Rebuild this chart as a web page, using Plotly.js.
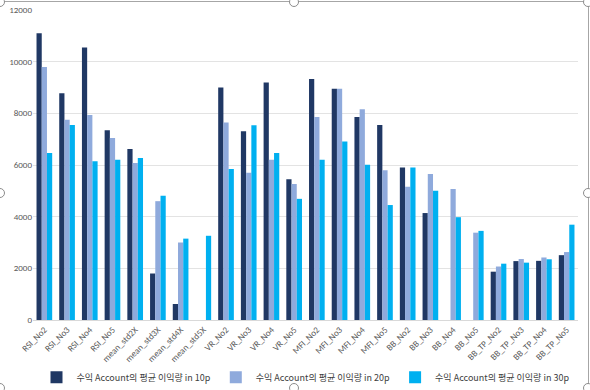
<!DOCTYPE html>
<html>
<head>
<meta charset="utf-8">
<script src="https://cdn.plot.ly/plotly-3.0.1.min.js"></script>
<style>
  html, body { margin: 0; padding: 0; background: #fff; }
  #wrap { position: relative; width: 590px; height: 390px; overflow: hidden; }
  #chart { position: absolute; left: 0; top: 0; width: 590px; height: 390px; }
  #frame { position: absolute; left: -1px; top: 1px; width: 588px; height: 395px; border: 1px solid #a6a6a6; pointer-events: none; }
  .h { position: absolute; width: 8px; height: 8px; border: 1px solid #8c8c8c; border-radius: 50%; background: #fff; }
</style>
</head>
<body>
<div id="wrap">
  <div id="chart"></div>
  <div id="frame"></div>
  <div class="h" style="left:-5px; top:-3px;"></div>
  <div class="h" style="left:289px; top:-3px;"></div>
  <div class="h" style="left:583px; top:-3px;"></div>
  <div class="h" style="left:583px; top:188px;"></div>
  <div class="h" style="left:-5px; top:188px;"></div>
  <div class="h" style="left:289px; top:383px;"></div>
  <div class="h" style="left:583px; top:383px;"></div>
  <div class="h" style="left:-5px; top:383px;"></div>
</div>
<script>
const categories = ["RSI_No2","RSI_No3","RSI_No4","RSI_No5","mean_std2X","mean_std3X","mean_std4X","mean_std5X",
  "VR_No2","VR_No3","VR_No4","VR_No5","MFI_No2","MFI_No3","MFI_No4","MFI_No5",
  "BB_No2","BB_No3","BB_No4","BB_No5","BB_TP_No2","BB_TP_No3","BB_TP_No4","BB_TP_No5"];
const seriesNames = ["수익 Account의 평균 이익량 in 10p","수익 Account의 평균 이익량 in 20p","수익 Account의 평균 이익량 in 30p"];
const values10p = [11100, 8780, 10550, 7350, 6620, 1800, 620, 0,
  9000, 7310, 9190, 5450, 9330, 8950, 7860, 7550,
  5900, 4140, 0, 0, 1870, 2280, 2290, 2510];
const values20p = [9790, 7750, 7940, 7050, 6080, 4600, 3000, 0,
  7650, 5700, 6200, 5260, 7860, 8950, 8160, 5800,
  5160, 5650, 5070, 3380, 2070, 2360, 2420, 2630];
const values30p = [6460, 7550, 6150, 6200, 6270, 4810, 3150, 3260,
  5850, 7540, 6460, 4690, 6200, 6910, 6010, 4450,
  5900, 5000, 3980, 3450, 2180, 2220, 2350, 3690];
const colors = ["#203864", "#8faadc", "#00b0f0"];

const allValues = [values10p, values20p, values30p];
const traces = allValues.map((v, i) => ({
  type: "bar",
  name: seriesNames[i],
  x: categories,
  y: v,
  marker: { color: colors[i] }
}));

const font = "Carlito, 'Liberation Sans', 'Noto Sans CJK KR', sans-serif";
const layout = {
  width: 590, height: 390,
  margin: { l: 33, r: 12, t: 10, b: 70, autoexpand: false },
  paper_bgcolor: "#ffffff", plot_bgcolor: "#ffffff",
  barmode: "group", bargap: 0.31, bargroupgap: 0,
  font: { family: font, color: "#595959", size: 9 },
  showlegend: true,
  legend: {
    orientation: "h", x: 0.5, xanchor: "center", y: -0.185, yanchor: "middle",
    font: { family: "'Noto Sans CJK KR', sans-serif", size: 9, color: "#404040" },
    itemwidth: 30, tracegroupgap: 0
  },
  xaxis: {
    type: "category",
    tickangle: -45,
    tickfont: { size: 9, color: "#595959" },
    showgrid: false, showline: true, linecolor: "#d9d9d9", linewidth: 1,
    ticks: "", automargin: false
  },
  yaxis: {
    range: [0, 12000],
    tickvals: [0, 2000, 4000, 6000, 8000, 10000, 12000],
    ticktext: ["0", "2000", "4000", "6000", "8000", "10000", "12000"],
    tickfont: { size: 9, color: "#595959" },
    gridcolor: "#e3e3e3", gridwidth: 1,
    zeroline: false, showline: false, ticks: "", automargin: false
  }
};

Plotly.newPlot("chart", traces, layout, { displayModeBar: false, staticPlot: true });
</script>
</body>
</html>
